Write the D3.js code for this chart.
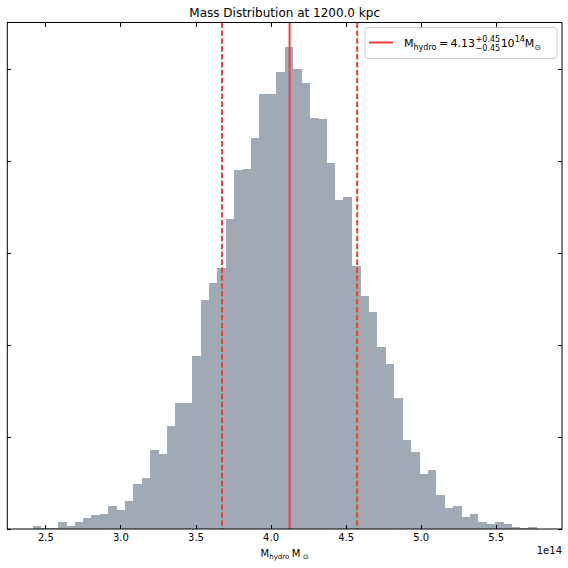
<!DOCTYPE html>
<html lang="en">
<head>
    <meta charset="utf-8">
    <title>Mass Distribution</title>
    <script type="text/javascript" src="https://d3js.org/d3.v7.min.js"></script>
    <style>
        html, body {
            margin: 0;
            padding: 0;
            background: #fff;
        }
        text {
            font-family: "DejaVu Sans", sans-serif;
            fill: #000;
        }
        .axis path.domain {
            display: none;
        }
        .axis line {
            stroke: #000;
            stroke-width: 1px;
            shape-rendering: crispEdges;
        }
        .axis text {
            font-size: 10px;
        }
        rect.bar {
            fill: #a0aab4;
            shape-rendering: crispEdges;
        }
        line.median {
            stroke: #f23a3a;
            stroke-width: 2px;
        }
        line.err {
            stroke: #f23a3a;
            stroke-width: 2px;
            stroke-dasharray: 5.5, 2.4;
        }
    </style>
</head>
<body>
<script type="text/javascript">

    // histogram of mass samples, units of 1e14 Msun
    var binLo = 2.414;
    var binHi = 5.774;
    var counts = [3, 1, 1, 8, 3, 8, 12, 15, 16, 25,
                  21, 30, 49, 55, 86, 82, 112, 137, 137, 188,
                  249, 267, 283, 337, 390, 391, 425, 473, 473, 496,
                  524, 500, 484, 446, 445, 398, 357, 361, 286, 253,
                  236, 198, 179, 142, 97, 84, 60, 64, 37, 23,
                  25, 13, 16, 8, 5, 8, 5, 2, 1, 2];
    var median = 4.127;
    var errLo = 0.45;
    var errHi = 0.45;
    var xTicks = [2.5, 3.0, 3.5, 4.0, 4.5, 5.0, 5.5];
    var yTicks = [0, 100, 200, 300, 400, 500];
    var titleText = "Mass Distribution at 1200.0 kpc";

    var margin = {left: 7.3, right: 6, top: 22.5, bottom: 39};
    var W = 568, H = 568;
    var width = W - margin.left - margin.right;
    var height = H - margin.top - margin.bottom;

    var nBins = counts.length;
    var step = (binHi - binLo) / nBins;
    var bins = counts.map(function (c, i) {
        return {x0: binLo + i * step, x1: binLo + (i + 1) * step, n: c};
    });

    var span = binHi - binLo;
    var x = d3.scaleLinear()
        .domain([binLo - 0.05 * span, binHi + 0.05 * span])
        .range([0, width]);
    var y = d3.scaleLinear()
        .domain([0, d3.max(counts) * 1.05])
        .range([height, 0]);

    var svg = d3.select("body").append("svg")
        .attr("width", W).attr("height", H);

    var g = svg.append("g")
        .attr("transform", "translate(" + margin.left + "," + margin.top + ")");

    g.selectAll("rect.bar")
        .data(bins)
        .enter().append("rect")
        .attr("class", "bar")
        .attr("x", function (d) { return x(d.x0); })
        .attr("width", function (d) { return x(d.x1) - x(d.x0) + 0.4; })
        .attr("y", function (d) { return y(d.n); })
        .attr("height", function (d) { return height - y(d.n); });

    // median and error lines
    g.append("line").attr("class", "err")
        .attr("x1", x(median - errLo)).attr("x2", x(median - errLo))
        .attr("y1", 0).attr("y2", height);
    g.append("line").attr("class", "err")
        .attr("x1", x(median + errHi)).attr("x2", x(median + errHi))
        .attr("y1", 0).attr("y2", height);
    g.append("line").attr("class", "median")
        .attr("x1", x(median)).attr("x2", x(median))
        .attr("y1", 0).attr("y2", height);

    // axes with inward ticks on all four sides
    g.append("g").attr("class", "axis x")
        .attr("transform", "translate(0," + height + ")")
        .call(d3.axisBottom(x).tickValues(xTicks).tickSize(-4).tickSizeOuter(0)
            .tickPadding(5).tickFormat(d3.format(".1f")));
    g.append("g").attr("class", "axis")
        .call(d3.axisTop(x).tickValues(xTicks).tickSize(-4).tickSizeOuter(0).tickFormat(""));
    g.append("g").attr("class", "axis")
        .call(d3.axisLeft(y).tickValues(yTicks).tickSize(-4).tickSizeOuter(0).tickFormat(""));
    g.append("g").attr("class", "axis")
        .attr("transform", "translate(" + width + ",0)")
        .call(d3.axisRight(y).tickValues(yTicks).tickSize(-4).tickSizeOuter(0).tickFormat(""));

    g.append("rect")
        .attr("x", 0).attr("y", 0).attr("width", width).attr("height", height)
        .attr("fill", "none").attr("stroke", "#000").attr("stroke-width", 1);

    // title
    svg.append("text")
        .attr("x", margin.left + width / 2).attr("y", 17)
        .attr("text-anchor", "middle")
        .style("font-size", "12px")
        .text(titleText);

    // offset text
    svg.append("text")
        .attr("x", margin.left + width).attr("y", 554)
        .attr("text-anchor", "end")
        .style("font-size", "10px")
        .text("1e14");

    // little mathtext helper: pieces laid out left to right, stacked pairs share x
    function mathText(parent, x0, y0, pieces, anchor) {
        var grp = parent.append("g");
        var cx = 0;
        pieces.forEach(function (p) {
            var items = p.stack ? p.stack : [p];
            var wMax = 0;
            items.forEach(function (q) {
                var t = grp.append("text")
                    .attr("x", cx + (q.dx || 0))
                    .attr("y", q.dy || 0)
                    .style("font-size", q.size + "px")
                    .text(q.t);
                var w = t.node().getComputedTextLength() + (q.dx || 0) * 2;
                if (w > wMax) wMax = w;
            });
            cx += wMax;
        });
        var sx = anchor === "middle" ? x0 - cx / 2 : x0;
        grp.attr("transform", "translate(" + sx + "," + y0 + ")");
        return cx;
    }

    // x label
    mathText(svg, margin.left + width / 2, 557, [
        {t: "M", size: 10},
        {t: "hydro", size: 7, dy: 2},
        {t: "M", size: 10, dx: 2.5},
        {t: "\u2299", size: 7, dy: 2}
    ], "middle");

    // legend
    var lg = svg.append("g");
    lg.append("rect")
        .attr("x", 365).attr("y", 27.5).attr("width", 192).attr("height", 31)
        .attr("rx", 3).attr("ry", 3)
        .attr("fill", "#fff").attr("fill-opacity", 0.8)
        .attr("stroke", "#cccccc").attr("stroke-width", 1);
    lg.append("line").attr("class", "median")
        .attr("x1", 369).attr("x2", 393).attr("y1", 42.5).attr("y2", 42.5);
    var lab = "" + median.toFixed(2);
    mathText(lg, 404, 47, [
        {t: "M", size: 11},
        {t: "hydro", size: 8, dy: 2.5},
        {t: "=", size: 11, dx: 2.5},
        {t: lab, size: 11},
        {stack: [
            {t: "+" + errHi.toFixed(2), size: 8, dy: -5, dx: 0.5},
            {t: "\u2212" + errLo.toFixed(2), size: 8, dy: 3.5, dx: 0.5}
        ]},
        {t: "10", size: 11},
        {t: "14", size: 8, dy: -5},
        {t: "M", size: 11},
        {t: "\u2299", size: 8, dy: 2.5}
    ], "start");

</script>
</body>
</html>
